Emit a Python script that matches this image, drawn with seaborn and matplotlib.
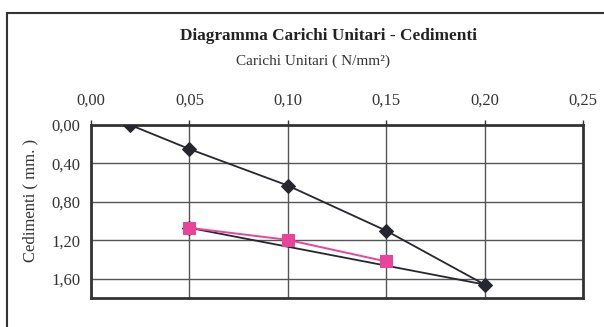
import matplotlib
matplotlib.use("Agg")
import matplotlib.pyplot as plt
import seaborn as sns
import pandas as pd
from matplotlib.patches import Rectangle
from matplotlib.ticker import FuncFormatter

# Load path (loading then unloading back to 0.05)
carico_x = [0.02, 0.05, 0.10, 0.15, 0.20, 0.05]
cedimento_y = [0.00, 0.25, 0.63, 1.10, 1.66, 1.07]

# Reloading path
ricarico_x = [0.05, 0.10, 0.15]
ricarico_y = [1.07, 1.195, 1.42]

x_ticks = [0.00, 0.05, 0.10, 0.15, 0.20, 0.25]
y_ticks = [0.00, 0.40, 0.80, 1.20, 1.60]

sns.set_style("white")
plt.rcParams["font.family"] = ["Liberation Serif", "DejaVu Serif"]

fig = plt.figure(figsize=(6.04, 3.27), dpi=100)
W, H = 604, 327
ax = fig.add_axes([91 / W, 1 - 298 / H, (583 - 91) / W, (298 - 125) / H])

df1 = pd.DataFrame({"x": carico_x, "y": cedimento_y})
df2 = pd.DataFrame({"x": ricarico_x, "y": ricarico_y})

black = "#26262e"
pink = "#e8449a"

sns.lineplot(data=df1, x="x", y="y", sort=False, estimator=None, ax=ax,
             color=black, linewidth=1.3, marker="D", markersize=7.5,
             markeredgecolor=black, markerfacecolor=black, zorder=3)
sns.lineplot(data=df2, x="x", y="y", sort=False, estimator=None, ax=ax,
             color=pink, linewidth=1.4, marker="s", markersize=9,
             markeredgecolor=pink, markerfacecolor=pink, zorder=4)

comma = FuncFormatter(lambda v, p: f"{v:.2f}".replace(".", ","))
ax.set_xlim(0, 0.25)
ax.set_ylim(1.80, 0)
ax.set_xticks(x_ticks)
ax.set_yticks(y_ticks)
ax.xaxis.set_major_formatter(comma)
ax.yaxis.set_major_formatter(comma)
ax.xaxis.tick_top()
ax.tick_params(axis="both", which="major", labelsize=12, colors="#333333",
               direction="out", length=3.5, width=1, labelcolor="#333333")
ax.tick_params(axis="x", pad=8)
ax.tick_params(axis="y", pad=4)
ax.grid(True, color="#555555", linewidth=1.0)
ax.set_xlabel("")
ax.set_ylabel("")
for s in ax.spines.values():
    s.set_visible(True)
    s.set_color("#333333")
    s.set_linewidth(2.0)

# Titles and axis label
fig.text(328 / W, 1 - 36 / H, "Diagramma Carichi Unitari - Cedimenti",
         ha="center", va="center", fontsize=12.4, fontweight="bold", color="#222222")
fig.text(313 / W, 1 - 61 / H, "Carichi Unitari ( N/mm²)",
         ha="center", va="center", fontsize=11, color="#333333")
fig.text(30 / W, 1 - 200 / H, "Cedimenti ( mm. )", rotation=90,
         ha="center", va="center", fontsize=12, color="#333333")

# Outer chart frame
fig.add_artist(Rectangle((7 / W, -0.1), 1.2, (1 - 13 / H) + 0.1,
                         transform=fig.transFigure, fill=False,
                         edgecolor="#333333", linewidth=1.5))

fig.savefig("out.png", dpi=100, facecolor="white")
